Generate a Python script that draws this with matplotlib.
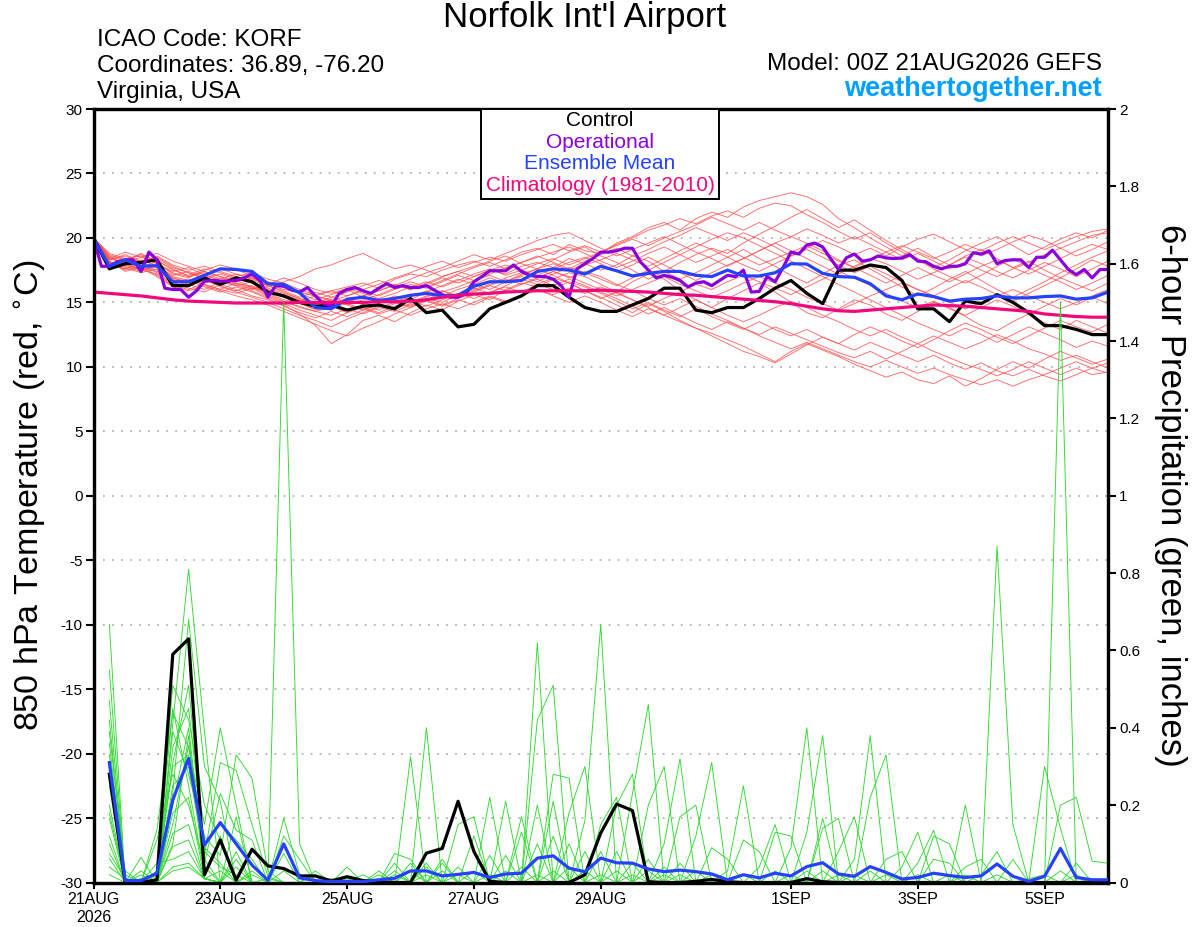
import numpy as np
import matplotlib
matplotlib.use('Agg')
import matplotlib.pyplot as plt
from matplotlib.patches import Rectangle

plt.rcParams['font.family'] = ['Liberation Sans', 'DejaVu Sans']

# ---------------- data ----------------
date_ticks = [0, 2, 4, 6, 8, 11, 13, 15]          # days after 21AUG 00Z
date_labels = ['21AUG\n2026', '23AUG', '25AUG', '27AUG', '29AUG', '1SEP', '3SEP', '5SEP']

control_t = [20.0, 17.6, 18.0, 18.1, 18.3, 16.3, 16.3, 16.9, 16.4, 16.9,
             16.6, 15.8, 15.5, 15.0, 14.7, 14.8, 14.4, 14.7, 14.8, 14.5,
             15.3, 14.2, 14.4, 13.1, 13.3, 14.5, 15.0, 15.5, 16.3, 16.3,
             15.4, 14.6, 14.3, 14.3, 14.8, 15.3, 16.1, 16.1, 14.4, 14.2,
             14.6, 14.6, 15.3, 16.1, 16.7, 15.7, 14.9, 17.5, 17.5, 17.9,
             17.7, 16.7, 14.5, 14.5, 13.5, 15.1, 14.9, 15.6, 15.0, 14.2,
             13.2, 13.2, 12.9, 12.5, 12.5]

oper_t = [20.0, 17.8, 17.8, 18.15, 18.3, 18.3, 17.4, 18.9, 18.3, 16.1,
          16.0, 16.0, 15.4, 15.9, 16.65, 16.7, 16.65, 16.65, 16.7, 16.9,
          17.2, 16.7, 15.4, 16.3, 16.25, 15.95, 15.8, 16.15, 15.5, 14.9,
          14.7, 15.7, 16.0, 16.15, 15.9, 15.7, 16.1, 16.45, 16.15, 16.3,
          16.15, 16.15, 16.3, 15.95, 15.6, 15.4, 15.4, 15.7, 16.6, 17.0,
          17.45, 17.45, 17.45, 17.9, 17.4, 17.1, 17.0, 17.0, 16.8, 16.3,
          15.4, 17.6, 18.0, 18.4, 18.9, 18.9, 19.0, 19.2, 19.2, 18.15,
          17.5, 16.9, 17.1, 16.95, 16.7, 16.2, 16.5, 16.6, 16.3, 16.7,
          17.1, 17.0, 17.5, 15.8, 15.85, 17.0, 16.6, 17.7, 18.9, 18.75,
          19.45, 19.6, 19.3, 18.4, 17.55, 18.46, 18.75, 18.2, 18.3, 18.6,
          18.45, 18.4, 18.45, 18.7, 18.2, 18.15, 17.8, 17.6, 17.8, 17.8,
          18.0, 18.85, 18.75, 19.0, 18.0, 18.25, 18.3, 18.3, 17.7, 18.5,
          18.5, 19.05, 18.3, 17.55, 17.15, 17.55, 16.9, 17.55, 17.55]

mean_t = [20.0, 17.8, 18.3, 17.8, 17.85, 16.6, 16.6, 17.1, 17.6, 17.55,
          17.4, 16.45, 16.4, 15.75, 14.6, 14.5, 15.25, 15.4, 15.15, 15.3,
          15.55, 15.7, 15.5, 15.55, 16.25, 16.6, 16.6, 16.7, 17.4, 17.6,
          17.5, 17.2, 17.8, 17.45, 17.05, 17.25, 17.4, 17.4, 17.1, 17.0,
          17.5, 17.05, 17.05, 17.3, 18.0, 17.97, 17.25, 17.0, 16.95, 16.45,
          15.5, 15.2, 15.65, 15.45, 15.1, 15.25, 15.3, 15.5, 15.35, 15.35,
          15.45, 15.5, 15.25, 15.35, 15.8]

clim_t = [15.8, 15.7, 15.6, 15.5, 15.35, 15.2, 15.1, 15.05, 15.0, 14.95,
          14.95, 14.95, 14.95, 15.0, 15.0, 15.0, 15.0, 15.0, 15.05, 15.05,
          15.1, 15.2, 15.4, 15.55, 15.65, 15.7, 15.8, 15.85, 15.9, 15.9,
          15.9, 15.9, 15.95, 15.9, 15.85, 15.8, 15.7, 15.6, 15.55, 15.45,
          15.35, 15.25, 15.15, 15.05, 14.9, 14.7, 14.5, 14.35, 14.3, 14.4,
          14.5, 14.6, 14.7, 14.8, 14.75, 14.7, 14.6, 14.5, 14.4, 14.3,
          14.1, 14.0, 13.9, 13.85, 13.85]

members_t = [
 [20.0,18.6,18.2,18.8,18.1,17.2,16.9,17.5,17.9,17.6,17.0,16.4,16.0,15.8,15.5,15.9,16.2,16.5,16.1,16.8,17.2,17.0,17.5,17.9,18.2,17.8,18.3,18.9,19.2,18.7,19.5,19.0,18.8,19.6,20.1,20.8,21.2,20.6,21.5,22.0,21.6,22.4,22.9,23.2,23.5,23.2,22.6,21.5,20.8,20.0,19.3,18.6,19.2,18.5,17.9,18.6,19.1,18.4,17.7,18.2,17.5,16.9,17.6,18.3,17.8],
 [20.0,17.9,17.6,18.0,17.3,16.5,16.1,15.8,16.4,16.0,15.5,15.2,14.8,14.1,13.2,11.8,12.5,13.6,14.0,13.5,14.2,14.8,14.4,15.1,15.6,15.2,16.0,16.5,16.2,16.8,17.3,17.0,16.4,15.8,16.6,17.2,16.8,15.9,15.2,14.6,15.3,15.9,16.5,15.8,15.0,14.2,13.8,14.5,15.2,14.8,14.1,13.6,14.3,15.0,14.6,13.9,13.2,12.8,13.5,14.1,13.4,12.9,13.6,13.1,12.6],
 [20.0,18.3,18.7,18.2,18.5,17.8,17.3,16.9,17.2,16.8,16.5,16.2,16.6,17.0,17.6,17.9,18.4,18.8,18.2,17.6,17.9,17.5,17.0,17.4,17.8,18.2,18.6,18.0,17.6,18.3,18.9,19.3,18.6,18.1,17.5,16.8,17.4,18.1,18.7,19.2,18.8,19.6,20.3,20.9,21.6,22.2,21.5,20.8,21.4,20.6,19.8,19.1,18.4,17.7,18.3,19.0,19.6,20.1,19.4,18.7,19.3,19.9,20.4,20.0,20.6],
 [20.0,18.0,17.8,17.4,17.9,16.9,16.5,16.9,16.2,15.9,16.3,15.7,15.2,15.0,14.4,14.7,14.2,14.8,15.3,15.0,14.6,15.2,15.8,16.2,16.7,17.1,16.6,17.2,17.6,17.1,16.5,15.9,15.3,15.8,15.2,14.6,14.0,13.5,13.0,12.6,12.1,11.6,11.0,10.4,11.2,11.8,11.3,10.8,10.2,9.7,9.2,9.6,9.0,8.7,9.3,8.5,9.1,9.8,10.4,9.9,10.6,11.2,10.7,10.2,10.6],
 [20.0,18.5,18.0,17.6,18.2,17.6,17.0,17.3,16.8,17.2,16.9,16.3,15.8,15.3,15.0,14.6,15.1,15.5,15.9,16.3,16.0,16.4,16.9,16.5,17.0,17.5,17.2,17.8,18.1,17.7,18.4,18.0,17.5,17.9,18.6,18.2,17.4,16.8,17.3,17.9,18.5,19.1,18.4,17.8,17.1,16.5,17.2,17.9,18.3,17.6,16.9,16.2,15.5,16.1,16.8,17.4,16.7,16.0,15.4,16.0,16.6,17.3,17.9,18.5,19.0],
 [20.0,17.7,18.1,17.9,17.5,16.6,16.8,16.4,16.0,16.5,16.2,15.6,15.1,14.6,14.3,14.0,14.5,14.1,14.6,15.0,14.7,15.3,15.0,15.6,16.1,15.7,16.3,16.8,16.4,16.9,16.5,15.9,15.4,14.8,14.2,14.9,14.3,13.6,13.0,12.4,11.8,11.2,10.8,10.3,11.0,11.7,12.3,11.8,12.5,13.1,12.6,12.0,11.5,12.1,12.8,13.4,12.9,12.3,11.8,12.4,13.0,13.6,13.1,12.7,13.3],
 [20.0,18.8,18.4,18.0,18.6,17.9,17.5,17.8,17.4,17.0,17.3,16.8,16.5,16.0,15.6,15.9,15.5,16.0,16.4,16.9,17.3,17.8,18.2,17.7,18.1,18.5,18.2,18.7,19.1,19.5,19.0,19.4,18.9,19.5,20.0,20.6,21.0,21.5,21.1,21.7,22.1,21.6,22.3,22.7,22.5,21.8,21.2,20.5,19.9,20.4,19.6,18.9,18.3,17.6,17.0,16.5,17.1,17.8,18.4,17.7,17.1,16.6,16.0,16.5,17.1],
 [20.0,18.2,17.5,17.8,17.1,16.3,16.0,16.5,16.9,16.5,16.1,15.9,15.4,14.9,14.5,14.9,15.3,14.8,14.4,14.9,15.4,15.9,15.5,16.0,16.4,16.9,16.5,17.0,16.6,17.2,17.7,17.3,16.8,16.3,16.9,17.5,18.1,18.7,19.3,19.9,20.4,20.0,19.4,18.8,18.2,17.6,17.0,16.4,15.8,15.2,14.6,14.0,13.4,12.9,12.4,13.0,12.5,11.9,12.5,13.1,12.6,12.1,11.5,12.0,11.6],
 [20.0,17.8,18.4,18.6,18.0,17.4,17.7,17.1,16.7,16.4,16.0,16.5,16.2,15.7,15.2,15.6,16.0,15.4,15.0,15.5,15.2,15.8,16.3,16.8,16.4,16.0,16.6,17.1,17.6,18.0,17.5,17.9,18.3,18.8,18.3,17.8,18.4,19.0,19.6,19.1,18.5,17.9,17.4,18.0,18.6,19.2,19.8,19.3,18.7,19.2,18.6,19.3,19.9,20.3,19.7,19.1,18.6,19.1,19.7,20.2,19.8,19.2,19.7,20.2,20.4],
 [20.0,18.1,17.7,17.3,17.6,16.8,16.4,16.0,16.6,16.3,15.9,15.4,14.9,14.4,14.0,13.6,14.2,14.6,14.2,14.7,15.1,14.7,15.2,15.7,15.3,15.8,16.2,15.8,16.4,16.0,16.6,16.2,15.7,15.1,14.5,15.0,14.4,13.9,14.5,13.9,13.4,12.9,13.5,12.9,12.4,12.9,12.3,11.8,11.3,11.9,11.4,10.9,10.4,10.9,10.3,9.8,10.3,9.7,9.3,9.8,9.3,8.9,9.4,9.9,9.5],
 [20.0,18.4,18.9,18.5,18.8,18.2,17.8,17.4,17.0,16.7,16.2,15.8,15.4,15.1,15.5,15.2,14.8,15.2,15.6,16.1,16.6,16.2,16.7,17.2,17.7,18.1,17.6,18.1,18.6,18.1,17.6,18.2,18.7,19.2,18.6,19.1,19.7,20.2,20.8,20.3,19.8,20.4,19.9,19.3,18.6,19.1,18.5,17.9,17.3,17.8,17.2,16.6,16.0,15.5,16.1,16.7,16.2,15.6,15.1,15.7,16.3,16.9,16.4,15.9,16.5],
 [20.0,17.6,17.9,17.5,17.2,16.4,16.7,16.2,15.8,16.2,15.8,15.3,14.7,14.2,13.8,14.3,13.9,14.4,14.8,14.4,14.0,14.5,14.9,14.5,15.0,15.5,15.1,15.6,16.0,15.6,16.1,15.7,16.2,15.7,15.2,14.7,15.3,15.8,16.4,16.0,16.6,17.1,16.6,16.1,15.6,16.2,16.8,17.4,16.9,16.3,15.7,15.1,14.6,15.1,14.5,14.0,14.6,15.2,14.7,14.1,14.7,15.3,14.8,15.4,14.9],
 [20.0,18.7,18.3,18.7,18.3,17.5,17.1,17.6,17.3,16.9,16.6,16.1,15.7,15.3,14.9,15.4,15.8,16.3,16.7,16.3,16.8,17.3,17.7,18.2,18.7,18.3,18.8,19.3,19.8,20.2,20.4,19.8,19.2,18.6,19.1,19.6,20.1,19.5,18.9,18.4,17.8,18.4,19.0,19.6,20.1,19.6,19.0,18.3,17.7,17.1,16.5,17.1,17.7,17.1,16.6,17.2,17.8,18.3,17.7,17.2,17.8,18.4,19.0,19.5,19.1],
 [20.0,18.0,18.3,17.7,17.4,16.7,16.3,16.7,16.3,15.8,15.4,15.0,14.5,14.0,13.6,13.1,13.7,14.2,14.7,14.3,14.8,15.2,14.8,15.3,15.8,16.3,16.8,16.4,16.9,17.4,16.9,17.4,17.0,16.4,15.9,15.3,14.8,15.3,14.7,14.1,13.6,13.0,12.5,13.1,12.6,12.1,11.6,11.1,10.7,11.2,10.6,11.2,11.8,12.4,11.9,11.4,11.9,12.5,12.0,11.4,11.0,10.5,10.9,10.4,9.9],
 [20.0,18.5,17.9,18.3,17.8,17.1,17.4,17.0,17.6,17.2,16.8,16.4,16.9,16.5,16.0,15.7,16.1,15.7,15.3,15.7,16.2,16.6,16.2,16.7,17.2,17.6,17.1,17.5,17.1,17.6,18.1,18.5,18.0,17.4,17.9,18.5,17.9,17.3,16.7,17.3,17.9,18.4,19.0,19.6,19.0,18.4,17.8,17.2,17.8,18.4,18.0,17.4,16.8,17.3,17.9,18.5,18.0,17.4,16.9,17.5,18.1,17.6,17.0,17.6,18.2],
 [20.0,18.2,17.4,17.7,17.0,16.2,15.9,16.3,15.9,15.5,15.2,14.8,14.3,13.8,13.3,12.8,12.4,13.0,13.5,14.1,14.6,15.1,14.7,15.2,14.8,15.4,15.0,15.5,16.0,15.5,15.0,15.5,15.0,14.4,13.9,14.5,14.0,14.6,15.2,14.6,14.0,13.5,14.0,14.6,15.1,14.6,14.0,13.5,12.9,12.4,12.9,12.3,11.8,11.2,10.7,10.2,9.8,9.3,9.8,10.4,9.9,9.4,9.9,9.4,9.6],
 [20.0,18.3,18.6,18.1,18.4,17.7,17.3,16.8,16.5,17.0,16.7,16.3,15.9,15.4,15.8,15.4,15.0,15.5,15.9,16.4,16.0,16.5,17.0,17.4,17.0,17.5,17.9,17.5,18.0,18.4,17.9,18.4,18.9,19.4,19.9,19.4,20.0,20.5,21.0,21.6,21.1,20.6,21.2,20.6,20.1,20.7,20.2,19.6,20.1,19.5,18.9,18.3,18.8,18.2,17.6,18.1,17.5,17.0,17.6,18.1,18.7,19.2,18.6,19.1,19.7],
 [20.0,17.9,17.6,18.1,17.7,16.9,16.6,17.1,16.7,16.3,16.6,16.0,15.6,15.2,14.8,15.2,14.8,14.4,14.9,15.4,15.0,15.5,15.9,15.5,16.0,16.4,16.9,17.3,16.9,17.4,17.0,16.5,16.0,15.5,16.0,16.5,17.0,16.4,15.9,15.4,15.9,16.5,17.0,16.5,16.0,15.4,14.9,14.4,14.9,15.5,16.0,16.5,16.0,15.5,15.0,14.5,15.0,15.5,16.0,15.5,15.0,14.5,15.0,15.5,16.0],
 [20.0,18.1,18.0,17.5,17.8,17.0,16.7,16.4,16.0,15.7,16.1,15.5,15.0,14.7,14.3,14.6,14.9,14.5,14.1,14.5,14.9,15.4,15.9,15.4,15.9,16.3,15.9,16.4,16.8,16.3,16.8,16.3,15.8,15.3,14.7,14.1,14.6,14.0,13.4,12.9,13.5,13.0,12.4,11.9,11.4,11.9,11.4,10.9,10.4,10.0,10.5,10.0,9.5,9.9,9.4,9.0,8.6,9.0,8.5,9.0,9.4,9.9,10.4,9.9,10.3],
 [20.0,18.4,18.1,18.5,18.0,17.3,17.0,17.4,17.0,16.6,16.9,16.6,16.2,15.8,15.5,15.1,15.5,15.9,15.5,16.0,16.4,16.1,16.6,17.1,16.7,17.2,17.7,18.1,18.5,18.9,19.3,18.8,18.2,17.7,18.2,18.8,19.3,18.7,18.1,18.6,19.1,18.5,17.9,18.4,18.9,19.4,18.8,18.2,17.7,18.3,18.9,19.4,18.9,18.4,18.9,19.5,19.0,19.6,20.1,19.6,19.1,19.6,20.1,20.5,20.7],
]

# 6-hour precipitation, valid 21AUG 06Z ... 6SEP 00Z (64 values)
control_p = [0.28, 0.0, 0.0, 0.007, 0.59, 0.63, 0.02, 0.11,
             0.006, 0.086, 0.043, 0.036, 0.017, 0.017, 0.004, 0.015,
             0.005, 0.002, 0.0, 0.0, 0.076, 0.088, 0.21, 0.08,
             0.003, 0.0, 0.0, 0.0, 0.0, 0.0, 0.02, 0.128,
             0.203, 0.186, 0.002, 0.0, 0.0, 0.003, 0.008, 0.002,
             0.0, 0.0, 0.0, 0.0, 0.01, 0.002, 0.0, 0.0,
             0.0, 0.0, 0.0, 0.0, 0.0, 0.0, 0.0, 0.0,
             0.0, 0.0, 0.0, 0.0, 0.0, 0.0, 0.0, 0.0]

mean_p = [0.31, 0.005, 0.005, 0.024, 0.213, 0.321, 0.097, 0.155,
          0.1, 0.045, 0.006, 0.1, 0.012, 0.005, 0.002, 0.003,
          0.002, 0.007, 0.011, 0.03, 0.03, 0.017, 0.021, 0.026,
          0.013, 0.022, 0.024, 0.063, 0.069, 0.037, 0.028, 0.063,
          0.051, 0.05, 0.035, 0.028, 0.032, 0.028, 0.022, 0.007,
          0.02, 0.012, 0.024, 0.017, 0.041, 0.051, 0.022, 0.016,
          0.041, 0.026, 0.009, 0.013, 0.024, 0.018, 0.013, 0.017,
          0.048, 0.016, 0.003, 0.016, 0.088, 0.013, 0.007, 0.007]

members_p = [
 [.667,0,0,0,.51,.42,.2,.11, 0,0,0,0,0,0,0,0, 0,0,.02,0,0,0,0,0, .02,0,.17,0,0,0,0,0,
  0,.05,0,0,0,0,0,0, 0,0,0,.02,0,.166,0,0, 0,0,0,0,0,0,0,0, 0,0,0,0,0,0,.01,0],
 [.47,0,0,.135,.44,.35,.15,.4, .2,0,0,0,0,.03,0,0, 0,0,0,.03,0,0,0,0, 0,.03,0,.62,0,0,0,0,
  0,0,.06,0,0,0,0,0, 0,0,0,0,0,.14,.166,0, 0,0,0,0,0,0,0,0, 0,0,0,0,0,0,0,0],
 [.39,.02,0,0,.41,.81,.39,0, .17,0,0,.03,0,0,0,0, 0,0,0,0,.02,0,0,0, 0,0,0,.42,.51,0,0,0,
  0,0,0,.04,0,0,0,0, 0,0,0,0,0,0,.08,.17, 0,0,0,0,0,0,0,0, 0,0,0,0,.03,0,0,0],
 [.33,0,0,0,.39,.28,.12,.07, .33,.27,.03,0,0,0,0,0, 0,0,0,0,0,0,0,0, 0,0,0,0,.28,.27,0,0,
  0,0,0,0,.05,0,0,0, 0,0,0,0,0,0,0,.06, .38,0,0,0,0,0,0,0, 0,0,0,0,0,.02,0,0],
 [.2,0,.065,0,.31,.51,.07,.31, .29,.15,.015,0,0,0,0,0, 0,0,0,0,0,.05,0,0, 0,0,0,0,0,.18,.3,0,
  0,0,0,0,0,.03,0,0, 0,0,0,0,0,0,0,0, .22,.33,0,0,0,0,0,0, 0,0,0,0,0,0,0,.01],
 [.166,0,0,.11,.28,.2,.05,.23, .135,.11,0,0,0,0,0,0, 0,0,0,0,0,.03,0,0, 0,0,0,0,0,0,.16,.667,
  0,0,0,0,0,0,.02,0, 0,0,0,0,0,0,0,0, 0,.06,.08,0,0,0,0,0, 0,0,0,0,0,0,0,0],
 [.075,.01,0,0,.23,.68,.3,.21, 0,0,0,0,0,.02,0,0, 0,0,0,0,0,0,.04,0, 0,0,0,0,0,0,0,.15,
  .22,0,0,0,0,0,0,0, .02,0,0,0,0,0,0,0, 0,0,.04,.13,0,0,0,0, 0,0,0,0,0,0,0,0],
 [.062,0,0,0,.15,.355,.1,.15, .11,.06,0,0,0,0,.01,0, 0,0,0,0,0,0,.02,0, 0,0,0,0,.03,0,0,0,
  .2,.28,0,0,0,0,0,0, 0,0,.03,0,0,0,0,0, 0,0,0,.05,.135,0,0,0, 0,0,0,0,0,0,0,0],
 [.55,0,.03,0,.127,.15,.01,0, .06,0,.01,0,0,0,0,.04, 0,0,0,0,0,0,0,.12, 0,0,0,0,0,.04,0,0,
  0,.23,.46,0,0,0,0,0, 0,0,0,0,.03,0,0,0, 0,0,0,0,.12,.1,0,0, 0,0,0,0,0,0,0,0],
 [.42,0,0,0,.093,.11,.01,0, 0,.03,0,0,0,0,0,0, .02,0,0,0,0,0,0,0, .07,0,0,0,0,0,.03,0,
  0,0,.2,.3,0,0,0,0, 0,0,0,0,0,.03,0,0, 0,0,0,0,.06,.05,0,0, 0,0,0,0,0,0,0,0],
 [.36,0,0,.05,.06,.08,.01,0, 0,0,0,1.5,.1,0,0,0, 0,0,0,0,0,0,0,0, 0,.07,0,0,0,0,0,.02,
  0,0,0,.1,.32,0,0,0, 0,0,0,0,0,0,.02,0, 0,0,0,0,0,0,.2,0, 0,0,0,0,0,0,0,0],
 [.28,.03,0,0,.04,.05,.01,0, 0,0,0,.166,.02,0,0,0, 0,.03,0,0,0,0,0,0, 0,0,.13,0,0,0,0,0,
  .03,0,0,0,.17,.2,0,0, 0,0,0,0,0,0,0,.02, 0,0,0,0,0,0,.04,.06, 0,0,0,0,0,0,0,0],
 [.25,0,0,0,.35,.45,.09,.05, 0,0,0,.12,.06,0,0,0, 0,0,.075,.06,0,0,0,0, 0,0,0,.2,0,0,0,0,
  0,.02,0,0,0,.12,.31,0, 0,0,0,0,0,0,0,0, .03,0,0,0,0,0,0,.02, .08,0,0,0,0,0,0,0],
 [.12,0,.01,0,.2,.4,.04,0, 0,.02,0,.075,0,0,0,0, 0,0,.05,0,.05,0,0,0, 0,0,0,.1,0,0,0,0,
  0,0,.03,0,0,0,.09,.06, 0,0,0,0,0,0,0,0, 0,.02,0,0,0,0,0,0, .87,.15,0,0,0,0,0,0],
 [.04,.01,0,0,.1,.38,.01,.03, 0,0,0,0,0,0,0,.01, 0,0,0,.325,0,0,0,0, 0,0,0,0,.21,0,0,0,
  0,0,0,.02,0,0,0,.03, .25,0,0,0,0,0,0,0, 0,0,0,.02,0,0,0,0, 0,.06,0,0,0,0,0,0],
 [.3,0,0,0,.25,.3,.06,0, .04,0,0,0,0,0,0,0, 0,.02,0,0,.4,0,0,0, 0,0,0,0,.12,0,0,0,
  0,0,0,0,.02,0,0,0, .11,.08,0,0,0,0,0,0, 0,0,0,0,0,.02,0,0, 0,0,.01,.02,0,0,0,0],
 [.18,0,0,.03,.45,.25,.02,.12, 0,0,0,0,0,0,0,0, 0,0,.03,0,0,.06,0,0, 0,0,0,0,0,.1,0,0,
  0,0,0,0,0,0,0,0, 0,.04,.15,0,0,0,0,0, 0,0,0,0,0,0,.02,0, 0,0,0,.3,.14,0,0,0],
 [.02,0,.02,0,.18,.22,.01,0, .08,0,0,0,0,0,0,0, 0,0,0,.05,0,0,.15,.17, 0,0,0,0,0,0,.08,0,
  0,0,0,0,0,0,0,0, 0,0,.13,.12,0,0,0,0, 0,0,0,0,0,0,0,0, .02,0,0,0,1.5,0,0,0],
 [0,0,0,0,.03,.04,.01,0, 0,0,0,0,0,0,0,0, 0,0,0,0,.04,0,0,0, .22,0,.04,0,0,0,0,.08,
  0,0,0,0,0,0,0,0, 0,0,0,.09,.4,0,0,0, 0,0,0,0,0,0,0,0, 0,0,0,0,.2,.22,.055,.05],
 [.1,0,0,.02,.3,.33,.08,.04, .02,0,0,0,0,0,0,0, 0,0,0,0,0,0,0,.03, 0,.21,0,.02,0,0,0,0,
  .08,0,0,0,0,0,0,0, 0,0,0,0,.13,.38,0,0, 0,0,0,0,0,0,0,0, 0,0,0,0,0,.05,0,0],
]

for k, m in enumerate(members_t):
    assert len(m) == 65, ('members_t', k, len(m))
for k, m in enumerate(members_p):
    assert len(m) == 64, ('members_p', k, len(m))
assert len(oper_t) == 129, len(oper_t)

# ---------------- figure ----------------
W, H = 1200, 927
fig = plt.figure(figsize=(W / 100, H / 100), dpi=100)

def fx(px):
    return px / W

def fy(py):
    return 1 - py / H

ax = fig.add_axes([fx(93.5), fy(882.5), (1108 - 93.5) / W, (882.5 - 109) / H])
ax2 = ax.twinx()

t6 = np.arange(65) * 0.25
t3 = np.arange(129) * 0.125
tp = t6[1:]

RED = '#ff5050'
GREEN = '#2fd92f'
PURPLE = '#8a00dc'
BLUE = '#2442ff'
PINK = '#f0087c'

# dotted gridlines
for yv in range(-25, 30, 5):
    ax.axhline(yv, color='#b4b4b4', lw=1.3, ls=(0, (1, 4)), zorder=0)

for m in members_t:
    ax.plot(t6, m, color=RED, lw=0.65, alpha=0.85, zorder=2)
ax.plot(t6, control_t, color='black', lw=2.3, zorder=4)
ax.plot(t3, oper_t, color=PURPLE, lw=2.3, zorder=5)
ax.plot(t6, mean_t, color=BLUE, lw=2.3, zorder=6)
ax.plot(t6, clim_t, color=PINK, lw=2.3, zorder=7)

for m in members_p:
    ax2.plot(tp, m, color=GREEN, lw=0.65, zorder=2)
ax2.plot(tp, control_p, color='black', lw=2.3, zorder=4)
ax2.plot(tp, mean_p, color=BLUE, lw=2.3, zorder=5)

ax.set_xlim(0, 16)
ax.set_ylim(-30, 30)
ax2.set_ylim(0, 2)

ax.set_xticks(date_ticks)
ax.set_xticklabels(date_labels, fontsize=11.5)
ax.set_yticks(range(-30, 31, 5))
ax.set_yticklabels([str(v) for v in range(-30, 31, 5)], fontsize=11)
p_ticks = np.round(np.arange(0, 2.01, 0.2), 1)
ax2.set_yticks(p_ticks)
ax2.set_yticklabels([('%g' % v) for v in p_ticks], fontsize=11)

ax.tick_params(axis='x', direction='out', length=4, width=1.5, pad=3)
ax.tick_params(axis='y', direction='out', length=6, width=1.5, pad=2)
ax2.tick_params(axis='y', direction='out', length=6, width=1.5, pad=2)
for a in (ax, ax2):
    for s in a.spines.values():
        s.set_linewidth(2.3)

# axis titles
fig.text(fx(31), fy(495), r'850 hPa Temperature (red, $^{\circ}$C)', rotation=90,
         ha='center', va='center', fontsize=24.5)
fig.text(fx(1170), fy(495), '6-hour Precipitation (green, inches)', rotation=270,
         ha='center', va='center', fontsize=25)

# header texts
fig.text(fx(585), fy(18), "Norfolk Int'l Airport", ha='center', va='center', fontsize=25)
fig.text(fx(97), fy(40), 'ICAO Code: KORF', ha='left', va='center', fontsize=17.5)
fig.text(fx(97), fy(66), 'Coordinates: 36.89, -76.20', ha='left', va='center', fontsize=17.5)
fig.text(fx(97), fy(92), 'Virginia, USA', ha='left', va='center', fontsize=17.5)
fig.text(fx(1102), fy(64), 'Model: 00Z 21AUG2026 GEFS', ha='right', va='center', fontsize=17.5)
fig.text(fx(1102), fy(89), 'weathertogether.net', ha='right', va='center', fontsize=19.5,
         fontweight='bold', color='#00a0ff')

# legend box
fig.add_artist(Rectangle((fx(480.5), fy(198.5)), (719 - 480.5) / W, (198.5 - 109) / H,
                         transform=fig.transFigure, facecolor='white', edgecolor='black',
                         lw=1.4, zorder=10))
for txt, col, yy in [('Control', 'black', 121), ('Operational', PURPLE, 142),
                     ('Ensemble Mean', BLUE, 163.5), ('Climatology (1981-2010)', PINK, 185.5)]:
    fig.text(fx(600), fy(yy), txt, ha='center', va='center', fontsize=15, color=col, zorder=11)

fig.savefig('out.png', dpi=100)
